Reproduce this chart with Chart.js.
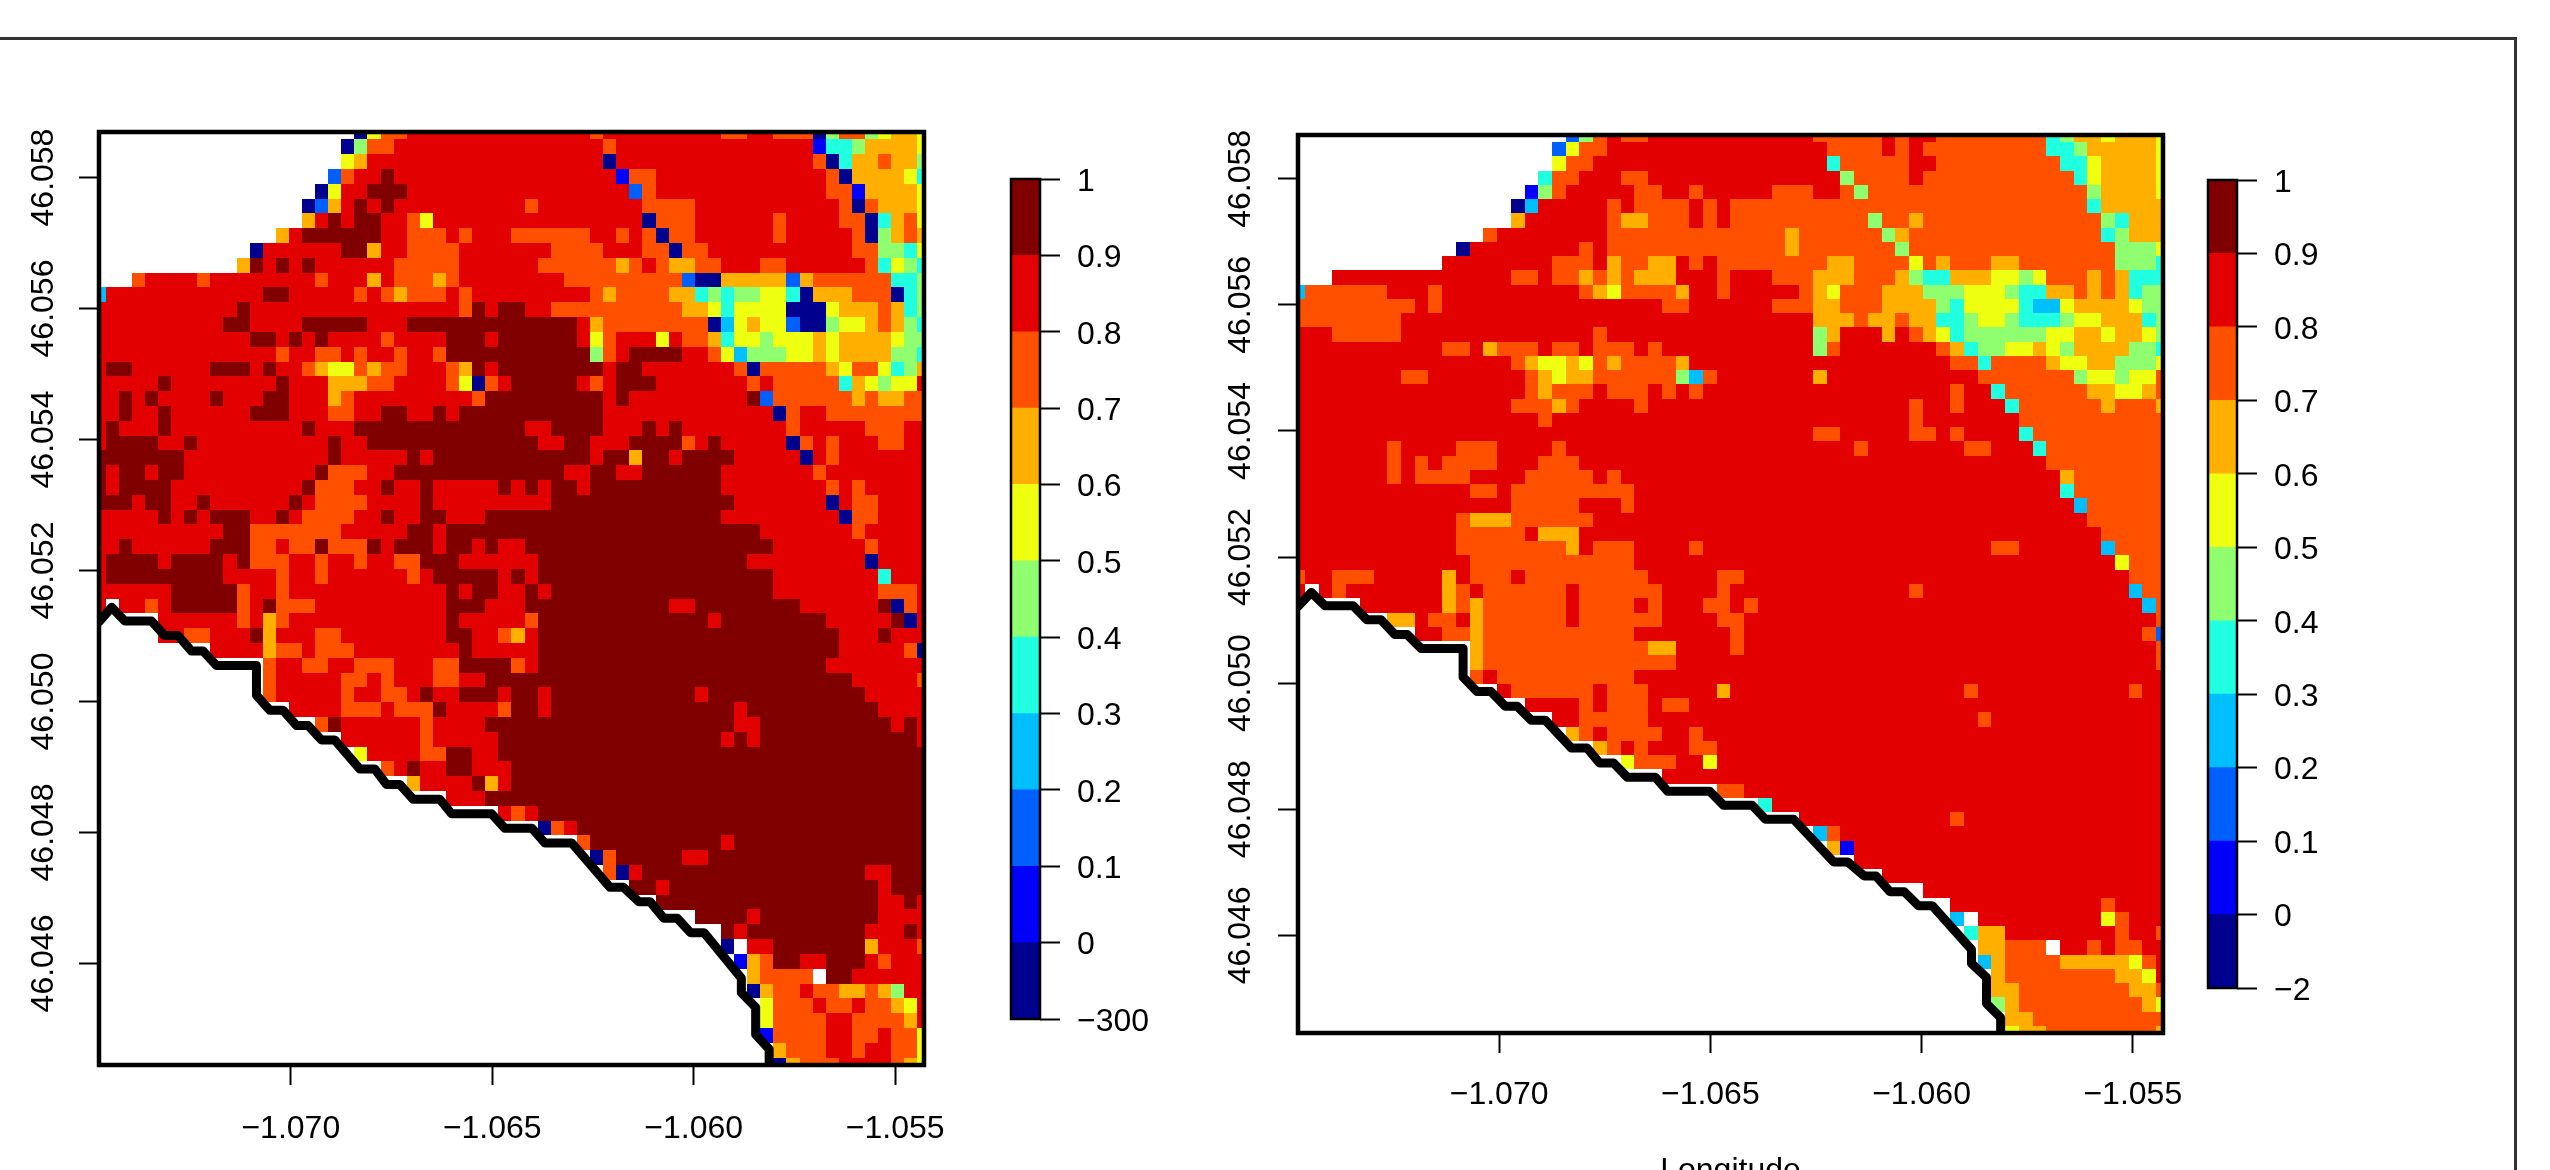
<!DOCTYPE html>
<html><head><meta charset="utf-8">
<style>
html,body{margin:0;padding:0;background:#fff;width:2550px;height:1170px;overflow:hidden}
canvas{position:absolute;display:block}
#frame{position:absolute;left:0;top:37px;width:2514px;height:1200px;border-top:3px solid #333;border-right:3px solid #333}
</style>
<script src="https://cdn.jsdelivr.net/npm/chart.js@4/dist/chart.umd.min.js"></script>
</head><body>
<div id="frame"></div>
<canvas id="mapL" width="990" height="1200" style="left:0;top:0"></canvas>
<canvas id="barL" width="200" height="1200" style="left:990px;top:0"></canvas>
<canvas id="mapR" width="1010" height="1200" style="left:1180px;top:0"></canvas>
<canvas id="barR" width="200" height="1200" style="left:2190px;top:0"></canvas>
<script>
// Level codes a..k are the 11 colour bands, "." is no data. Each token "NNx" = from column NN onward, band x.
const levelCodes = "abcdefghijk";
const levelColors = ["#00008F","#0000FF","#005FFF","#00BFFF","#20FFDF","#8FFF70","#EFFF10","#FFAF00","#FF5000","#E30000","#800000"];
const barLabelsLeft = ["\u2212300","0","0.1","0.2","0.3","0.4","0.5","0.6","0.7","0.8","0.9","1"];
const barLabelsRight = ["\u22122","0","0.1","0.2","0.3","0.4","0.5","0.6","0.7","0.8","0.9","1"];
const xTickValues = [-1.07,-1.065,-1.06,-1.055];
const yTickValues = [46.046,46.048,46.05,46.052,46.054,46.056,46.058];
const lonRange = [-1.07476,-1.054285];
const latRange = [46.04445,46.058695];

const fieldLeft = [
"0. 20a 21g 22i 24j 38i 39j 48i 50j 52i 55a 56f 57i 59f 60g 61h 63g",
"0. 19a 20f 21i 23j 39i 40j 55b 56e 58f 59h 63g",
"0. 19g 20h 21j 39a 40j 55i 56a 57e 58h 60i 61h 63f",
"0. 18c 19i 20j 22k 23j 40b 41i 43j 56i 57a 58h 62g 63e",
"0. 17a 18g 19j 21k 24j 41c 42i 43j 56i 58b 59h 63g",
"0. 16a 17c 18h 19j 20k 21j 22k 23j 33i 34j 42i 46j 57i 58a 59i 60h 63g",
"0. 16h 17j 18k 19j 20k 22j 24i 25g 26j 42a 43i 46j 52i 53j 57i 59a 60e 61h 62i 63g",
"0. 14h 15j 16k 22j 24i 27j 28i 29j 32i 38j 40i 41j 42i 43a 44i 46j 52i 53j 58i 59a 60f 61h 62i 63h",
"0. 12a 13j 19k 21h 22j 24i 28j 35i 39j 42i 44a 45i 47j 58i 60f 62e 63g",
"0. 11h 12k 13j 14k 15j 16k 17j 23i 28j 34i 40h 41i 42j 43i 44h 46i 48j 51i 53j 59i 60e 61g 62f 63e",
"0. 3i 4j 8i 9j 17i 18j 21h 22j 23i 26h 27i 28j 36i 45c 46a 48h 53c 54h 55i 61e 63f",
"0d 1j 13k 15j 20i 21j 22i 23h 24i 27j 28i 29j 38i 39h 40i 44h 46e 47f 48e 49f 51g 53e 54a 55h 58i 61a 62e 63f",
"0j 11k 12j 28i 29k 30j 31k 33j 35i 45h 47g 48e 49g 53a 56g 57h 60i 61h 62e 63f",
"0j 10k 12j 16k 21j 24k 37j 38h 39i 47a 48d 49g 50h 51g 53c 54a 56f 57g 59h 60i 61h 62f 63e",
"0j 12k 14j 15k 16j 17k 18j 22i 23j 27k 30j 31k 37j 38g 39i 40j 43g 44j 45i 47h 48e 49g 51f 52g 55h 56g 57h 61g 62f",
"0j 14i 15j 17i 19j 20i 21j 23i 24j 26i 27k 38f 39i 40j 41k 45j 47i 48g 49d 50f 53g 55h 56g 57h 61f 63e",
"0j 1k 3j 9k 12j 13k 14j 16i 17h 18g 20i 21h 22i 24j 27i 28h 29k 30j 31k 39j 40k 42j 49i 50a 51i 56h 57g 58i 60g 61e 62f 63h",
"0j 5k 6j 14k 15j 18h 21i 23j 27i 28g 29a 30i 31j 32k 37j 38i 39j 40k 43j 50i 51j 52i 57e 58h 59g 60f 61g 63j",
"0j 2k 3j 4k 5j 9k 10j 13k 15j 18h 19i 20j 29i 30k 39j 40k 41j 50k 51c 52i 58h 59i 60h 62i",
"0j 2k 3j 5k 6j 12k 15j 18i 20j 22k 24j 26k 27j 28k 39j 52a 53i 54j 56i",
"0j 1k 2j 5k 6j 16k 17j 20k 33j 35k 39j 42k 43j 44k 45j 53i 54j 59i 62j",
"0j 1k 5j 7k 8j 18k 19j 21k 34j 36k 38j 41k 45i 46j 47k 48j 53a 54i 55j 56i 57j 60i 62j",
"0k 7j 18k 19j 24k 25j 26k 38j 39k 41h 42k 44j 45k 49j 54a 55j 56i 57j",
"0k 1j 2k 4j 5k 7j 17k 18i 21j 23k 36j 38k 40j 42k 48j 55i 56j",
"0k 1j 2k 6j 16k 17i 20j 22k 23j 25k 26j 31k 32j 33k 34j 35k 37j 38k 48j 56i 57j 58i 59j",
"0k 3j 4k 6j 8k 9j 15k 16j 17i 21j 25k 26j 35k 49j 56a 57j 58i 60j",
"0j 5k 6j 7k 8j 9k 12j 14k 15j 16i 20j 22k 23j 25k 27j 30k 48j 57a 58i 60j",
"0j 10k 12i 19j 24k 26j 27k 51j 58i 59j",
"0j 2k 3j 9k 12i 14j 15i 17k 18i 21k 22j 23k 26j 27k 29j 30k 31j 33k 52j 59i 60j",
"0j 1k 5j 6k 10j 11k 12i 15j 17i 18j 20i 21j 23i 25k 28j 34k 50j 59a 60j",
"0j 1k 10j 14i 15j 17i 18j 24i 25j 26k 31j 32k 33j 34k 52j 60e 61j",
"0j 6k 11i 12j 14i 15j 27k 28j 29k 31j 33k 34j 35k 52j 60i 63j",
"0j 1. 2j 4i 5j 6k 11i 12j 13k 14i 17j 27k 30j 33k 44j 46k 54j 60k 61a 62i 63j",
"0. 5j 11i 12j 13h 14i 15j 27k 28j 33i 34k 47j 48k 56j 61k 62a 63j",
"0. 5j 7i 9j 12k 13h 14j 17i 19j 27k 29j 31i 32h 33j 34k 57j 60k 61j",
"0. 9j 13h 14i 16j 17i 20j 28k 29j 34k 57j 62i 63a",
"0. 13i 14j 16i 18j 20i 23j 26i 28k 32i 33j 34k 56j",
"0. 13i 14j 19i 21j 22i 23j 26i 28j 30k 58j 63i",
"0. 13i 14j 19i 20j 22i 24j 25k 26j 28k 31j 32k 34j 35k 46j 47k 59j",
"0. 15j 19i 22j 23i 26k 27j 31i 32k 34j 35k 49j 50k 60j",
"0. 17i 18k 19j 25i 26j 30k 49j 51k 61j 62k 63j",
"0. 19j 25i 26j 31k 48j 49k 50j 51k 63j",
"0. 20g 21j 25i 27k 29j 31k",
"0. 22i 23j 24k 25j 27k 29j 32k",
"0. 24h 25j 29k 30h 31j 32k",
"0. 27j 30k",
"0. 31j 32i 33j 34k",
"0. 34a 35i 36j 37k",
"0. 37i 38k 48j 49k",
"0. 38a 39i 40k 45j 47k",
"0. 39i 40a 41j 42k 59j 61k",
"0. 41k 43j 44k 60j 61k",
"0. 43k 60j 62k 63j",
"0. 46k 50j 51k 60j",
"0. 48k 49j 50k 59j 62k 63j",
"0. 48a 49. 50j 52k 59h 60j 63i",
"0. 49b 50h 51i 52k 54j 56k 59j 60i 61j",
"0. 50h 51i 55. 56k 58j",
"0. 50a 51h 52i 54j 55i 57h 59i 60h 61f 62j",
"0. 51g 52i 55j 56i 58j 59i 61h 62g 63j",
"0. 51g 52i 56j 58i 62h 63j",
"0. 51b 52i 56j 58i 60j 61i 63g",
"0. 52h 53i 56j 58i 59j 61i 63g",
"0. 52a 53h 54i 57j 61i 62h 63g"
];

const fieldRight = [
"0. 20c 21f 22i 23j 24i 26j 38i 43j 44i 45j 47i 55e 56f 57h 59g 60h 63g",
"0. 19c 20g 21i 23j 39i 43j 44i 45j 46i 55e 57f 58h 63g",
"0. 19g 20i 22j 39e 40i 45j 47i 56e 58g 59h 63g",
"0. 18e 19i 21j 24i 26j 40f 41i 45j 46i 57e 58g 59h 63g",
"0. 17b 18f 19i 20j 25i 27j 29i 30j 35i 38j 40i 41f 42i 58f 59h 63g",
"0. 16a 17d 18j 23i 24j 25i 29j 30i 31j 32i 58e 59h",
"0. 16h 17j 23i 24h 26i 29j 30i 31j 32i 42f 43i 45h 46i 59f 60e 61h",
"0. 14i 15j 23i 36h 37i 43f 44h 45i 59e 60f 61h",
"0. 12a 13j 21i 22j 23i 36h 37i 44f 45i 60f 63g",
"0. 11j 19i 22j 23h 24i 26h 28j 29i 30j 31i 39h 41i 45g 46i 47h 48i 51h 53i 60f 63e",
"0. 3j 16i 18j 19i 21h 22i 23h 24i 25h 28j 31i 32j 35i 38h 41i 44h 45f 46e 48h 51g 53f 54g 55i 58h 59i 60h 61e",
"0d 1i 7j 10i 11j 21i 22h 23g 24i 28h 29j 31i 32j 37i 38h 39g 40i 43h 46f 49g 52f 53e 55h 57i 58h 59i 60h 61e 62f",
"0i 9j 10i 11j 27i 29j 35i 38h 40i 43h 47f 48e 49g 53e 54d 56g 57h 61g 62f",
"0i 8j 38h 41i 42h 44i 45h 47e 49f 50g 52f 53e 56f 57g 59h 62e 63f",
"0j 3i 8j 22i 23j 38f 39h 40j 43h 44j 45i 46h 47g 48e 49f 55g 57h 59g 60h 62g 63f",
"0j 11i 13j 14h 15i 18j 19i 21j 22i 25j 26i 27j 38f 39i 40j 47i 48h 49e 50f 52g 54h 55g 56f 57h 61f 63e",
"0j 16i 17h 18g 20h 21g 22i 23h 24i 28h 29j 48i 50e 51i 55h 56g 58h 60f 63g",
"0j 8i 10j 17i 18h 19g 20h 22i 28f 29d 30i 31j 38h 39j 50i 57f 58g 60f 61g 63i",
"0j 17i 18h 19i 22j 23i 26j 27i 28j 29i 30j 48i 49j 51e 52i 58h 60g 62h 63i",
"0j 16i 19h 20i 21j 25i 26j 45i 46j 48i 49j 52e 53i 59h 60i 63h",
"0j 18i 19j 45i 46j 53i",
"0j 38i 40j 45i 47j 48i 49j 53e 54i",
"0j 7i 8j 12i 15j 19i 20j 41i 42j 49i 51j 54e 55i",
"0j 7i 8j 9i 10j 11i 15j 18i 21j 55i",
"0j 7i 8j 9i 13j 17i 22j 23i 24j 56h 57i",
"0j 13i 15j 16i 25j 56e 57i",
"0j 16i 21j 24i 25j 57d 58i",
"0j 12i 13h 16i 22j 58i",
"0j 12i 17j 18h 21j 59i",
"0j 12i 20h 21j 22i 25j 29i 30j 51i 53j 59d 60i",
"0j 13i 25j 60g 61i",
"0i 1j 3i 6j 11h 12j 13i 16j 17i 26j 31i 33j 61i",
"0j 1. 2j 3i 4j 11h 12i 13j 14i 20j 21i 27j 31i 32j 45i 46j 61d 62i",
"0. 5j 11h 12i 13h 14i 20j 21i 25j 26i 27j 30i 32j 33i 34j 62d 63i",
"0. 7h 9j 10i 12j 13h 14i 20j 21i 27j 31i 33j 63i",
"0. 9j 11i 13h 14i 25j 32i 33j 62i 63c",
"0. 13h 14i 26h 28j 32i 33j 63i",
"0. 13h 14i 28j 63i",
"0. 13i 14j 15i 25j",
"0. 15j 16i 22j 23i 26j 31h 32j 49i 50j 61i 62j",
"0. 17j 21i 22j 23i 26j 27i 29j",
"0. 19j 21i 26j 50i 51j",
"0. 20h 21i 22j 23i 27j 29i 30j",
"0. 22h 23i 24j 25i 26j 29i 31j",
"0. 24g 25i 28j 30g 31j",
"0. 27j",
"0. 31i 33j",
"0. 34e 35j",
"0. 37j 48i 49j",
"0. 38d 39i 40j",
"0. 39h 40b 41j",
"0. 41j",
"0. 43j",
"0. 46j",
"0. 48j 59i 60j",
"0. 48d 49. 50j 59g 60i 61j",
"0. 49e 50h 52j 60i 61j 63i",
"0. 50h 52i 55. 56j 58i 59j 60i 62j",
"0. 50d 51h 52i 56h 61g 62i 63j",
"0. 51h 52i 60h 62g 63j",
"0. 51h 53i 61h 63i",
"0. 51f 52h 53i 62h 63g",
"0. 52h 54i",
"0. 52g 53h 55i 63h"
];

const coastLon = [-1.074759,-1.074444,-1.074121,-1.073458,-1.073128,-1.072798,-1.072465,-1.072177,-1.071845,-1.070852,-1.070852,-1.070521,-1.070191,-1.069858,-1.069571,-1.069238,-1.068908,-1.068287,-1.067915,-1.067624,-1.067294,-1.066964,-1.066301,-1.06601,-1.065017,-1.064687,-1.06401,-1.063697,-1.063029,-1.06208,-1.061748,-1.06136,-1.06108,-1.060745,-1.060412,-1.060077,-1.059744,-1.058818,-1.058818,-1.058463,-1.058463,-1.058128,-1.058128];
const coastLat = [46.051217,46.051438,46.051229,46.051229,46.051006,46.051006,46.050771,46.050771,46.05055,46.05055,46.050095,46.049867,46.049867,46.049634,46.049634,46.049412,46.049412,46.04897,46.04897,46.048734,46.048734,46.048507,46.048507,46.048286,46.048286,46.048063,46.048063,46.047841,46.047841,46.047163,46.047163,46.046942,46.046942,46.046692,46.046692,46.04647,46.04647,46.045776,46.045554,46.045331,46.044916,46.044693,46.04442];

function decodeRow(row){
  const cols = new Array(64).fill(null);
  const tokens = [...row.matchAll(/(\d+)([a-k.])/g)];
  tokens.forEach((t,i)=>{
    const from = +t[1], to = i+1<tokens.length ? +tokens[i+1][1] : 64;
    const lv = t[2]==="." ? null : levelCodes.indexOf(t[2]);
    for(let c=from;c<to;c++) cols[c]=lv;
  });
  return cols;
}
function cellPoints(field){
  const pts=[];
  const dx=(lonRange[1]-lonRange[0])/63, dy=(latRange[1]-latRange[0])/63;
  field.forEach((row,r)=>decodeRow(row).forEach((lv,c)=>{
    if(lv!==null) pts.push({x:lonRange[0]+c*dx, y:latRange[1]-r*dy, level:lv});
  }));
  return pts;
}
const FONT={family:"'Liberation Sans', Arial, sans-serif",size:32};
function fixedBox(size,isX){
  return s=>{
    if(isX) s.height=size; else s.width=size;
    s.paddingLeft=s.paddingRight=s.paddingTop=s.paddingBottom=0;
  };
}
const cellPlugin={
  id:"cells",
  beforeDatasetsDraw(chart){
    const ds=chart.data.datasets[0], meta=chart.getDatasetMeta(0), a=chart.chartArea, ctx=chart.ctx;
    const xs=chart.scales.x, ys=chart.scales.y;
    const hx=(lonRange[1]-lonRange[0])/126, hy=(latRange[1]-latRange[0])/126;
    ctx.save();ctx.beginPath();ctx.rect(a.left,a.top,a.right-a.left,a.bottom-a.top);ctx.clip();
    meta.data.forEach((el,i)=>{
      const p=ds.data[i];
      const l=Math.round(xs.getPixelForValue(p.x-hx)), r=Math.round(xs.getPixelForValue(p.x+hx));
      const t=Math.round(ys.getPixelForValue(p.y+hy)), b=Math.round(ys.getPixelForValue(p.y-hy));
      ctx.fillStyle=levelColors[p.level];
      ctx.fillRect(l,t,r-l,b-t);
    });
    ctx.restore();
  }
};
const boxPlugin={
  id:"box",
  afterDatasetsDraw(chart,args,opts){
    const a=chart.chartArea, ctx=chart.ctx;
    ctx.save();ctx.strokeStyle="#000";ctx.lineWidth=opts.width;
    ctx.strokeRect(a.left,a.top,a.right-a.left,a.bottom-a.top);
    ctx.restore();
  }
};
function makeMap(id,field,area,yPad,xPad,showTitle){
  const W=document.getElementById(id).width, H=1200;
  new Chart(document.getElementById(id),{
    type:"scatter",
    data:{datasets:[
      {data:cellPoints(field),pointRadius:0,pointHoverRadius:0,showLine:false},
      {data:coastLon.map((v,i)=>({x:v,y:coastLat[i]})),showLine:true,pointRadius:0,borderColor:"#000",borderWidth:9,borderJoinStyle:"round",borderCapStyle:"round",tension:0,clip:0,fill:false}
    ]},
    plugins:[cellPlugin,boxPlugin],
    options:{
      responsive:false,animation:false,events:[],
      layout:{padding:{left:0,top:area.top,right:W-area.right,bottom:0}},
      plugins:{legend:{display:false},tooltip:{enabled:false},box:{width:4.5}},
      scales:{
        x:{type:"linear",min:lonRange[0],max:lonRange[1],
          afterBuildTicks:s=>{s.ticks=xTickValues.map(v=>({value:v}));},
          afterFit:fixedBox(H-area.bottom,true),
          border:{display:false},
          grid:{drawOnChartArea:false,drawTicks:true,tickLength:20,tickWidth:2,tickColor:"#000"},
          title:{display:showTitle,text:"Longitude",color:"#000",font:FONT,padding:{top:0,bottom:10}},
          ticks:{autoSkip:false,maxRotation:0,minRotation:0,color:"#000",font:FONT,padding:xPad,
            callback:v=>"\u2212"+Math.abs(v).toFixed(3)}
        },
        y:{type:"linear",min:latRange[0],max:latRange[1],
          afterBuildTicks:s=>{s.ticks=yTickValues.map(v=>({value:v}));},
          afterFit:fixedBox(area.left,false),
          border:{display:false},
          grid:{drawOnChartArea:false,drawTicks:true,tickLength:20,tickWidth:2,tickColor:"#000"},
          ticks:{autoSkip:false,minRotation:90,maxRotation:90,crossAlign:"center",color:"#000",font:FONT,padding:yPad,
            callback:v=>v.toFixed(3)}
        }
      }
    }
  });
}
function makeBar(id,labels,area){
  const W=200,H=1200;
  new Chart(document.getElementById(id),{
    type:"bar",
    data:{labels:[""],datasets:levelColors.map((c,k)=>({data:[k+1],backgroundColor:c,borderWidth:0,barPercentage:1,categoryPercentage:1,grouped:false}))},
    plugins:[boxPlugin],
    options:{
      responsive:false,animation:false,events:[],
      layout:{padding:{left:area.left,top:area.top,right:0,bottom:H-area.bottom}},
      plugins:{legend:{display:false},tooltip:{enabled:false},box:{width:2.5}},
      scales:{
        x:{display:false},
        y:{type:"linear",position:"right",min:0,max:11,
          afterBuildTicks:s=>{s.ticks=labels.map((_,i)=>({value:i}));},
          afterFit:fixedBox(W-area.right,false),
          border:{display:false},
          grid:{drawOnChartArea:false,drawTicks:true,tickLength:20,tickWidth:2,tickColor:"#000"},
          ticks:{autoSkip:false,color:"#000",font:FONT,padding:17,labelOffset:3,callback:v=>labels[v]}
        }
      }
    }
  });
}
makeMap("mapL",fieldLeft,{left:99,right:924,top:132,bottom:1065},-14,25,false);
makeBar("barL",barLabelsLeft,{left:21,right:50,top:179,bottom:1019});
makeMap("mapR",fieldRight,{left:118,right:983,top:135,bottom:1033},-12,23,true);
makeBar("barR",barLabelsRight,{left:18,right:47,top:180,bottom:988});
</script>
</body></html>
